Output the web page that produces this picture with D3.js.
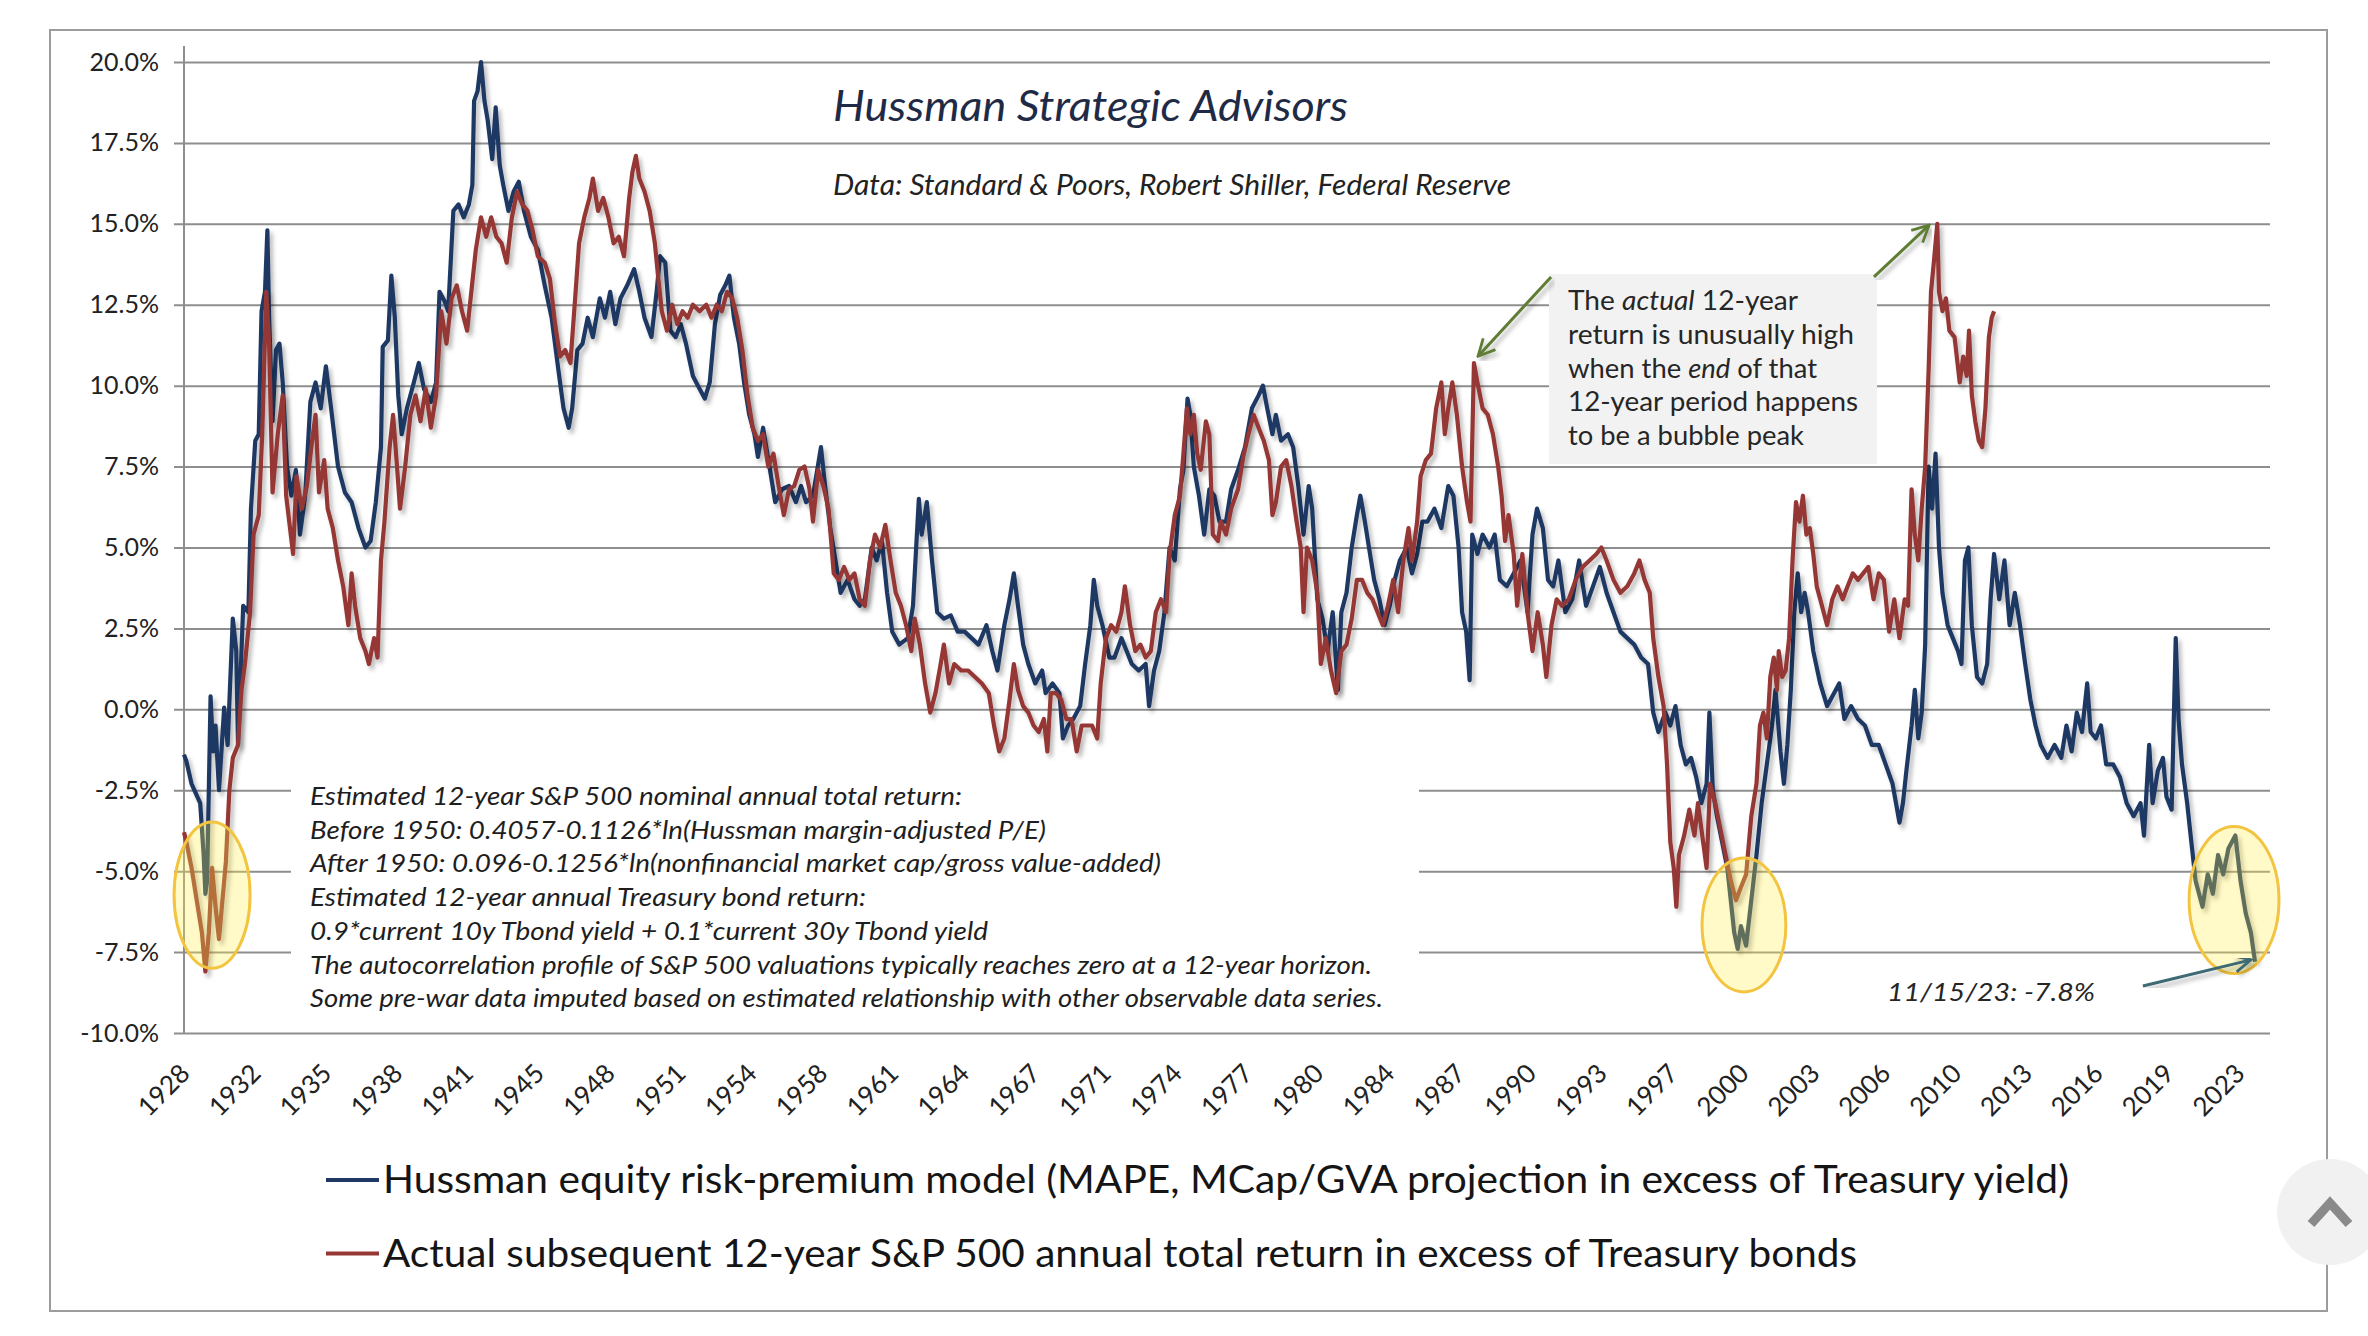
<!DOCTYPE html>
<html>
<head>
<meta charset="UTF-8">
<title>Hussman Strategic Advisors</title>
<script src="https://d3js.org/d3.v7.min.js"></script>
<style>
  body { margin: 0; background: #fff; }
</style>
</head>
<body>
<svg id="chart"></svg>
<script>
// values: [position on the time axis in years, percent]
const modelSeries = [
[1928.0,-1.4],[1928.11,-1.6],[1928.35,-2.3],[1928.75,-2.9],[1928.91,-4.5],[1928.99,-5.7],[1929.07,-5.3],[1929.23,0.4],[1929.35,-1.3],[1929.46,-0.5],[1929.62,-2.5],[1929.86,0.05],[1930.02,-1.1],[1930.26,2.8],[1930.42,1.8],[1930.5,-1.1],[1930.74,3.2],[1930.98,3.0],[1931.1,6.2],[1931.3,8.3],[1931.46,8.5],[1931.59,12.3],[1931.75,12.9],[1931.86,14.8],[1931.94,12.1],[1932.1,8.9],[1932.26,11.1],[1932.42,11.3],[1932.57,10.1],[1932.77,7.5],[1932.97,6.6],[1933.18,7.4],[1933.37,5.4],[1933.61,6.6],[1933.85,9.5],[1934.09,10.1],[1934.33,9.3],[1934.57,10.6],[1934.81,9.3],[1935.13,7.5],[1935.45,6.7],[1935.76,6.4],[1936.08,5.6],[1936.4,5.0],[1936.64,5.2],[1936.88,6.4],[1937.12,8.1],[1937.2,11.2],[1937.44,11.4],[1937.6,13.4],[1937.76,12.1],[1937.92,9.7],[1938.08,8.5],[1938.32,9.3],[1938.64,10.1],[1938.87,10.7],[1939.11,9.9],[1939.43,9.5],[1939.67,10.1],[1939.83,12.9],[1940.07,12.6],[1940.23,12.3],[1940.47,15.4],[1940.71,15.6],[1940.95,15.2],[1941.19,15.6],[1941.35,16.2],[1941.43,18.8],[1941.59,19.1],[1941.75,20.0],[1941.91,18.8],[1942.06,18.2],[1942.27,17.0],[1942.43,18.6],[1942.62,16.8],[1942.78,16.2],[1943.02,15.4],[1943.26,16.0],[1943.5,16.3],[1943.74,15.4],[1944.06,14.6],[1944.38,14.2],[1944.7,13.1],[1945.02,12.1],[1945.33,10.5],[1945.57,9.3],[1945.81,8.7],[1945.97,9.3],[1946.21,11.1],[1946.45,11.3],[1946.69,12.1],[1946.93,11.5],[1947.25,12.7],[1947.49,12.1],[1947.73,12.9],[1947.97,11.9],[1948.21,12.7],[1948.52,13.1],[1948.84,13.6],[1949.08,12.9],[1949.32,12.1],[1949.64,11.5],[1949.88,12.9],[1950.04,14.0],[1950.28,13.8],[1950.52,11.7],[1950.76,11.5],[1951.0,11.9],[1951.24,11.3],[1951.56,10.3],[1951.87,9.9],[1952.11,9.6],
[1952.34,10.1],[1952.58,11.9],[1952.82,12.8],[1953.06,13.1],[1953.25,13.4],[1953.46,12.1],[1953.7,11.3],[1953.93,10.1],[1954.17,9.1],[1954.41,8.5],[1954.57,7.8],[1954.81,8.7],[1955.13,7.4],[1955.37,6.4],[1955.69,6.8],[1956.01,6.9],[1956.33,6.4],[1956.57,6.9],[1956.8,6.4],[1957.12,6.6],[1957.49,8.1],[1957.68,6.9],[1957.92,5.6],[1958.16,4.6],[1958.4,3.6],[1958.72,4.0],[1959.04,3.4],[1959.28,3.2],[1959.52,3.4],[1959.84,5.0],[1960.07,4.6],[1960.31,5.2],[1960.55,3.6],[1960.79,2.4],[1961.11,2.0],[1961.51,2.2],[1961.75,3.2],[1962.02,6.5],[1962.15,5.4],[1962.39,6.4],[1962.63,4.6],[1962.87,3.0],[1963.18,2.8],[1963.5,2.9],[1963.82,2.4],[1964.14,2.4],[1964.46,2.2],[1964.78,2.0],[1965.15,2.6],[1965.42,1.8],[1965.66,1.2],[1965.98,2.6],[1966.22,3.4],[1966.42,4.2],[1966.61,3.2],[1966.85,2.0],[1967.09,1.4],[1967.41,0.8],[1967.73,1.2],[1967.89,0.5],[1968.21,0.8],[1968.53,0.5],[1968.69,-0.9],[1968.93,-0.5],[1969.17,-0.3],[1969.49,0.1],[1969.72,1.4],[1969.96,2.6],[1970.12,4.0],[1970.28,3.2],[1970.52,2.6],[1970.84,1.6],[1971.08,1.6],[1971.4,2.2],[1971.64,1.8],[1971.88,1.4],[1972.2,1.2],[1972.52,1.4],[1972.68,0.1],[1972.91,1.2],[1973.15,1.8],[1973.39,3.0],[1973.63,5.0],[1973.87,4.6],[1974.11,6.8],[1974.27,7.4],[1974.46,9.6],[1974.59,9.1],[1974.75,7.5],[1974.99,6.6],[1975.23,5.4],[1975.47,6.8],[1975.7,6.6],[1975.94,5.8],
[1976.24,5.8],[1976.48,6.8],[1976.8,7.4],[1977.12,8.1],[1977.44,9.3],[1977.75,9.7],[1977.95,10.0],[1978.15,9.3],[1978.39,8.5],[1978.55,9.1],[1978.79,8.3],[1979.11,8.5],[1979.35,8.1],[1979.59,6.9],[1979.83,5.4],[1980.07,6.9],[1980.23,6.2],[1980.47,3.4],[1980.71,2.8],[1980.94,1.8],[1981.18,3.0],[1981.42,0.6],[1981.58,3.0],[1981.82,3.6],[1982.06,5.0],[1982.3,6.0],[1982.46,6.6],[1982.67,5.8],[1982.86,5.0],[1983.1,4.0],[1983.34,3.4],[1983.58,2.6],[1983.82,3.2],[1984.05,4.0],[1984.29,4.6],[1984.61,5.0],[1984.85,4.2],[1985.09,4.8],[1985.33,5.8],[1985.57,5.8],[1985.89,6.2],[1986.21,5.6],[1986.53,6.9],[1986.77,6.6],[1987.01,5.0],[1987.17,3.0],[1987.36,2.4],[1987.52,0.9],[1987.64,5.4],[1987.88,4.8],[1988.12,5.4],[1988.44,5.0],[1988.68,5.4],[1988.92,4.0],[1989.24,3.8],[1989.56,4.2],[1989.88,4.6],[1990.2,3.0],[1990.43,5.4],[1990.64,6.2],[1990.91,5.6],[1991.15,4.0],[1991.39,3.8],[1991.63,4.6],[1991.95,3.0],[1992.27,3.4],[1992.59,4.6],[1992.91,3.2],[1993.23,3.8],[1993.55,4.4],[1993.86,3.6],[1994.18,3.0],[1994.5,2.4],[1994.82,2.2],[1995.14,2.0],[1995.46,1.6],[1995.78,1.4],[1996.02,-0.1],[1996.26,-0.7],[1996.58,-0.1],[1996.81,-0.5],[1997.05,0.1],[1997.29,-1.1],[1997.53,-1.7],[1997.77,-1.5],[1998.01,-2.1],[1998.25,-2.9],[1998.49,-2.3],[1998.62,-0.1],[1998.78,-2.5],[1998.97,-3.3],[1999.21,-4.1],[1999.45,-4.9],[1999.61,-5.9],[1999.77,-6.9],[1999.93,-7.4],
[2000.08,-6.7],[2000.32,-7.3],[2000.56,-5.9],[2000.8,-4.5],[2001.04,-2.9],[2001.28,-1.7],[2001.52,-0.5],[2001.68,0.6],[2001.91,-1.3],[2002.07,-2.3],[2002.23,-1.1],[2002.39,0.6],[2002.55,3.0],[2002.71,4.2],[2002.87,3.0],[2003.03,3.6],[2003.19,3.0],[2003.43,1.8],[2003.75,0.8],[2004.07,0.1],[2004.39,0.5],[2004.63,0.8],[2004.87,-0.3],[2005.18,0.1],[2005.5,-0.3],[2005.82,-0.5],[2006.14,-1.1],[2006.46,-1.1],[2006.78,-1.7],[2007.1,-2.3],[2007.42,-3.5],[2007.58,-2.9],[2007.74,-1.9],[2007.98,-0.5],[2008.13,0.6],[2008.29,-0.9],[2008.45,-0.1],[2008.61,2.0],[2008.77,7.5],[2008.93,6.2],[2009.09,7.9],[2009.25,5.0],[2009.41,3.6],[2009.65,2.6],[2009.89,2.2],[2010.13,1.8],[2010.29,1.4],[2010.45,4.6],[2010.61,5.0],[2010.77,2.6],[2011.01,1.0],[2011.25,0.8],[2011.48,1.4],[2011.64,3.4],[2011.8,4.8],[2012.04,3.4],[2012.28,4.6],[2012.52,2.6],[2012.76,3.6],[2013.0,2.6],[2013.24,1.4],[2013.48,0.3],[2013.72,-0.5],[2013.96,-1.1],[2014.28,-1.5],[2014.6,-1.1],[2014.91,-1.5],[2015.15,-0.5],[2015.39,-1.3],[2015.63,-0.1],[2015.87,-0.7],[2016.11,0.8],[2016.27,-0.7],[2016.51,-0.9],[2016.75,-0.5],[2016.99,-1.7],[2017.31,-1.7],[2017.63,-2.1],[2017.94,-2.9],[2018.26,-3.3],[2018.58,-2.9],[2018.74,-3.9],[2018.98,-1.1],[2019.14,-2.9],[2019.38,-1.9],[2019.62,-1.5],[2019.78,-2.7],[2020.02,-3.1],[2020.21,2.2],[2020.34,-0.3],[2020.5,-1.7],[2020.74,-2.9],[2020.9,-3.9],[2021.13,-5.3],[2021.45,-6.1],[2021.69,-5.1],[2021.93,-5.7],[2022.17,-4.5],[2022.41,-5.1],[2022.65,-4.3],[2022.97,-3.9],[2023.21,-5.3],[2023.45,-6.3],[2023.69,-6.9],[2023.88,-7.8]
];

const actualSeries = [
[1928.0,-3.8],[1928.11,-4.1],[1928.35,-4.9],[1928.59,-5.9],[1928.83,-6.9],[1928.99,-8.1],[1929.15,-6.9],[1929.3,-4.9],[1929.46,-6.1],[1929.62,-7.1],[1929.78,-5.9],[1929.94,-4.7],[1930.1,-2.5],[1930.26,-1.5],[1930.5,-1.1],[1930.66,0.6],[1930.82,1.4],[1931.06,3.0],[1931.22,5.4],[1931.46,6.0],[1931.62,8.5],[1931.81,12.9],[1931.94,11.3],[1932.1,6.7],[1932.34,8.5],[1932.57,9.7],[1932.73,6.6],[1933.05,4.8],[1933.21,7.2],[1933.45,6.2],[1933.69,6.9],[1933.93,8.3],[1934.09,9.1],[1934.25,6.7],[1934.49,7.7],[1934.65,6.2],[1934.89,5.6],[1935.13,4.6],[1935.37,3.8],[1935.61,2.6],[1935.76,4.2],[1935.92,3.2],[1936.16,2.2],[1936.4,1.8],[1936.56,1.4],[1936.8,2.2],[1936.96,1.6],[1937.12,4.6],[1937.28,5.8],[1937.52,8.1],[1937.68,9.1],[1937.84,7.7],[1938.0,6.2],[1938.24,7.5],[1938.48,9.1],[1938.72,9.7],[1938.95,8.9],[1939.19,9.9],[1939.43,8.7],[1939.67,9.7],[1939.91,12.3],[1940.15,11.3],[1940.39,12.7],[1940.63,13.1],[1940.87,12.3],[1941.11,11.7],[1941.27,12.7],[1941.51,14.2],[1941.75,15.2],[1941.99,14.6],[1942.22,15.2],[1942.46,14.6],[1942.7,14.4],[1942.94,13.8],[1943.18,15.2],[1943.42,16.0],[1943.66,15.6],[1943.9,15.4],[1944.14,14.8],[1944.38,14.0],[1944.7,13.8],[1944.94,13.3],[1945.18,11.9],[1945.41,10.9],[1945.65,11.1],[1945.89,10.7],[1946.13,12.9],[1946.29,14.4],[1946.53,15.2],[1946.77,15.8],[1946.93,16.4],[1947.17,15.4],[1947.41,15.8],[1947.65,15.2],[1947.89,14.4],[1948.13,14.6],[1948.37,14.0],[1948.61,15.8],[1948.76,16.6],[1948.92,17.1],[1949.08,16.4],[1949.32,16.0],[1949.56,15.4],[1949.8,14.4],[1949.96,13.3],[1950.12,12.3],[1950.36,11.7],[1950.6,12.5],[1950.84,11.9],[1951.08,12.3],[1951.32,12.1],[1951.56,12.5],[1951.87,12.3],
[1952.18,12.5],[1952.42,12.1],[1952.66,12.5],[1952.9,12.3],[1953.14,12.9],[1953.38,12.7],[1953.61,12.1],[1953.85,11.1],[1954.09,9.7],[1954.33,8.7],[1954.57,8.3],[1954.81,8.5],[1955.05,7.5],[1955.29,7.9],[1955.53,6.9],[1955.77,6.0],[1956.01,6.8],[1956.25,6.9],[1956.49,7.4],[1956.73,7.5],[1956.96,6.8],[1957.12,5.8],[1957.36,7.4],[1957.6,6.9],[1957.84,6.2],[1958.08,4.2],[1958.32,4.0],[1958.56,4.4],[1958.8,4.0],[1959.04,4.2],[1959.28,3.4],[1959.52,3.2],[1959.76,4.6],[1959.99,5.4],[1960.23,5.0],[1960.47,5.7],[1960.71,4.6],[1960.95,3.6],[1961.19,3.2],[1961.43,2.6],[1961.67,1.8],[1961.83,2.8],[1962.07,2.0],[1962.31,0.8],[1962.55,-0.1],[1962.79,0.5],[1963.03,1.4],[1963.18,2.0],[1963.42,0.8],[1963.66,1.4],[1963.98,1.2],[1964.3,1.2],[1964.62,1.0],[1964.94,0.8],[1965.26,0.5],[1965.5,-0.5],[1965.74,-1.3],[1965.98,-0.9],[1966.22,0.3],[1966.42,1.4],[1966.61,0.6],[1966.85,0.1],[1967.09,-0.1],[1967.33,-0.5],[1967.57,-0.7],[1967.81,-0.3],[1967.97,-1.3],[1968.13,0.5],[1968.37,0.5],[1968.61,0.3],[1968.85,-0.3],[1969.09,-0.3],[1969.33,-1.3],[1969.56,-0.5],[1969.8,-0.5],[1970.04,-0.5],[1970.28,-0.9],[1970.44,0.8],[1970.68,2.2],[1970.92,2.6],[1971.16,2.4],[1971.4,3.0],[1971.56,3.8],[1971.8,2.6],[1972.04,1.8],[1972.28,2.0],[1972.52,1.6],[1972.76,1.8],[1972.99,3.0],[1973.23,3.4],[1973.47,3.0],[1973.63,4.8],[1973.87,6.0],[1974.11,6.6],[1974.27,7.9],[1974.43,9.3],[1974.59,8.5],[1974.75,9.1],[1974.91,7.9],[1975.07,7.4],[1975.31,8.9],[1975.47,8.5],[1975.63,5.4],[1975.87,5.2],
[1976.0,5.8],[1976.24,5.4],[1976.48,6.2],[1976.8,6.8],[1977.04,7.8],[1977.28,8.5],[1977.52,9.1],[1977.75,8.7],[1977.99,8.3],[1978.23,7.7],[1978.39,6.0],[1978.55,6.4],[1978.79,7.5],[1979.03,7.7],[1979.27,6.9],[1979.51,5.8],[1979.7,5.0],[1979.83,3.0],[1979.99,5.0],[1980.23,4.6],[1980.47,3.6],[1980.63,1.4],[1980.86,2.2],[1981.1,1.2],[1981.34,0.5],[1981.58,1.8],[1981.82,2.0],[1982.06,2.8],[1982.3,4.0],[1982.54,4.0],[1982.78,3.6],[1983.02,3.4],[1983.26,3.0],[1983.5,2.6],[1983.74,3.2],[1983.98,4.0],[1984.21,3.0],[1984.45,4.6],[1984.69,5.6],[1984.85,4.6],[1985.09,5.8],[1985.25,7.2],[1985.49,7.7],[1985.73,7.9],[1985.97,9.3],[1986.21,10.1],[1986.37,8.5],[1986.53,9.3],[1986.72,10.1],[1986.93,9.1],[1987.17,7.5],[1987.4,6.4],[1987.56,5.8],[1987.72,10.7],[1987.88,10.1],[1988.12,9.3],[1988.36,9.1],[1988.6,8.5],[1988.84,7.5],[1989.0,6.6],[1989.16,5.2],[1989.32,6.0],[1989.56,4.8],[1989.72,3.2],[1989.96,4.8],[1990.2,3.0],[1990.43,1.8],[1990.67,3.0],[1990.91,2.0],[1991.07,1.0],[1991.31,2.6],[1991.55,3.4],[1991.79,3.2],[1992.11,3.4],[1992.43,4.0],[1992.75,4.4],[1993.07,4.6],[1993.39,4.8],[1993.62,5.0],[1993.86,4.6],[1994.18,4.0],[1994.5,3.6],[1994.82,3.8],[1995.14,4.2],[1995.38,4.6],[1995.62,4.0],[1995.86,3.6],[1996.02,2.2],[1996.26,1.0],[1996.5,0.1],[1996.66,-1.7],[1996.81,-4.1],[1996.97,-4.9],[1997.09,-6.1],[1997.21,-4.5],[1997.45,-3.9],[1997.69,-3.1],[1997.93,-3.9],[1998.09,-2.9],[1998.33,-4.1],[1998.49,-4.9],[1998.65,-2.3],[1998.89,-2.9],[1999.13,-3.7],[1999.37,-4.5],[1999.61,-5.3],[1999.85,-5.9],[2000.08,-5.5],
[2000.32,-5.1],[2000.56,-3.3],[2000.8,-2.3],[2000.96,-0.5],[2001.12,-0.1],[2001.28,-0.9],[2001.44,1.0],[2001.6,1.6],[2001.75,0.6],[2001.83,1.8],[2001.99,1.0],[2002.15,1.2],[2002.31,2.2],[2002.47,4.6],[2002.63,6.4],[2002.79,5.8],[2002.95,6.6],[2003.11,5.4],[2003.27,5.6],[2003.43,4.8],[2003.59,3.8],[2003.83,3.2],[2004.07,2.6],[2004.31,3.4],[2004.55,3.8],[2004.79,3.4],[2005.02,3.8],[2005.26,4.2],[2005.5,4.0],[2005.74,4.2],[2005.98,4.4],[2006.22,3.4],[2006.46,4.2],[2006.7,4.0],[2006.94,2.4],[2007.18,3.4],[2007.42,2.2],[2007.66,3.4],[2007.82,3.2],[2007.98,6.8],[2008.13,5.4],[2008.29,4.6],[2008.45,6.2],[2008.61,7.5],[2008.77,10.5],[2008.88,12.9],[2009.01,13.8],[2009.17,15.0],[2009.25,12.9],[2009.41,12.3],[2009.57,12.7],[2009.73,11.7],[2009.97,11.5],[2010.21,10.1],[2010.37,10.9],[2010.53,10.3],[2010.64,11.7],[2010.77,9.7],[2010.93,8.9],[2011.09,8.3],[2011.25,8.1],[2011.4,9.3],[2011.56,11.5],[2011.69,12.1],[2011.8,12.3]
];

const yTicks = [-10, -7.5, -5, -2.5, 0, 2.5, 5, 7.5, 10, 12.5, 15, 17.5, 20];
const xTickLabels = ["1928","1932","1935","1938","1941","1945","1948","1951","1954","1958","1961","1964","1967","1971","1974",
                     "1977","1980","1984","1987","1990","1993","1997","2000","2003","2006","2010","2013","2016","2019","2023"];

const legendLabels = [
  "Hussman equity risk-premium model (MAPE, MCap/GVA projection in excess of Treasury yield)",
  "Actual subsequent 12-year S&P 500 annual total return in excess of Treasury bonds"
];
const legendColors = ["#1F3864", "#953735"];

const noteLines = [
  "Estimated 12-year S&P 500 nominal annual total return:",
  "Before 1950: 0.4057-0.1126*ln(Hussman margin-adjusted P/E)",
  "After 1950: 0.096-0.1256*ln(nonfinancial market cap/gross value-added)",
  "Estimated 12-year annual Treasury bond return:",
  "0.9*current 10y Tbond yield + 0.1*current 30y Tbond yield",
  "The autocorrelation profile of S&P 500 valuations typically reaches zero at a 12-year horizon.",
  "Some pre-war data imputed based on estimated relationship with other observable data series."
];
const noteWidths = [652, 736, 851, 556, 678, 1062, 1073];

// callout box text, [text, italic] pieces per line
const boxLines = [
  [["The ", false], ["actual", true], [" 12-year", false]],
  [["return is unusually high", false]],
  [["when the ", false], ["end", true], [" of that", false]],
  [["12-year period happens", false]],
  [["to be a bubble peak", false]]
];
const boxWidths = [230, 286, 249, 290, 236];

// yellow highlight ellipses, in data units
const highlights = [
  {year: 1929.3, value: -5.74, rYears: 1.76, rPct: 2.26},
  {year: 2000.22, value: -6.66, rYears: 1.94, rPct: 2.07},
  {year: 2022.91, value: -5.89, rYears: 2.08, rPct: 2.27}
];

// annotation arrows, in data units
const arrows = [
  {from: [1991.29, 13.36], to: [1987.91, 10.91], color: "#5E7D34"},
  {from: [2006.24, 13.36], to: [2008.79, 14.96], color: "#5E7D34"},
  {from: [2018.69, -8.55], to: [2023.69, -7.74], color: "#3D6A73"}
];

const width = 2368, height = 1336;
const plot = {left: 184, right: 2270, top: 62, bottom: 1033};

const svg = d3.select("#chart")
  .attr("width", width)
  .attr("height", height)
  .style("display", "block")
  .attr("font-family", "Lato, 'Open Sans', sans-serif");

const defs = svg.append("defs");
const shadow = defs.append("filter").attr("id", "shadow")
  .attr("x", "-5%").attr("y", "-5%").attr("width", "110%").attr("height", "110%");
shadow.append("feDropShadow").attr("dx", 3).attr("dy", 4).attr("stdDeviation", 2.2)
  .attr("flood-color", "#000").attr("flood-opacity", 0.28);

arrows.forEach((a, i) => {
  defs.append("marker").attr("id", "head" + i)
    .attr("viewBox", "0 0 12 12").attr("refX", 11).attr("refY", 6)
    .attr("markerWidth", 20).attr("markerHeight", 20)
    .attr("markerUnits", "userSpaceOnUse").attr("orient", "auto")
    .append("path").attr("d", "M1,1 L11,6 L1,11")
    .attr("fill", "none").attr("stroke", a.color).attr("stroke-width", 1.7);
});

// outer frame
svg.append("rect")
  .attr("x", 50).attr("y", 30).attr("width", 2277).attr("height", 1281)
  .attr("fill", "#fff").attr("stroke", "#9c9c9c").attr("stroke-width", 2);

const x = d3.scaleLinear().domain([1928, 2024]).range([plot.left, plot.left + 96 * 21.6]);
const y = d3.scaleLinear().domain([-10, 20]).range([plot.bottom, plot.top]);
const xCat = d3.scalePoint().domain(xTickLabels).range([plot.left, 2239]);

// y axis + gridlines
svg.append("g")
  .attr("transform", `translate(174,0)`)
  .call(d3.axisLeft(y).tickValues(yTicks)
    .tickSize(-(plot.right - 174)).tickPadding(15)
    .tickFormat(d => d.toFixed(1) + "%"))
  .call(g => g.select(".domain").remove())
  .call(g => g.selectAll("line").attr("stroke", "#8e8e8e").attr("stroke-width", 2))
  .call(g => g.selectAll("text")
    .attr("font-family", "Lato, sans-serif").attr("font-size", 25).attr("fill", "#222"));

svg.append("line")
  .attr("x1", plot.left).attr("x2", plot.left)
  .attr("y1", 46).attr("y2", plot.bottom)
  .attr("stroke", "#8e8e8e").attr("stroke-width", 2);

// x axis labels
svg.append("g")
  .attr("transform", `translate(0,${plot.bottom})`)
  .call(d3.axisBottom(xCat).tickSize(0))
  .call(g => g.select(".domain").remove())
  .selectAll("text")
  .attr("y", 0).attr("dy", 0)
  .attr("text-anchor", "end")
  .attr("transform", "translate(7,42) rotate(-45)")
  .attr("font-family", "Lato, sans-serif").attr("font-size", 26).attr("fill", "#222");

// white panel behind the methodology note
svg.append("rect")
  .attr("x", 291).attr("y", 772).attr("width", 1128).attr("height", 252)
  .attr("fill", "#fff");

// series
const line = d3.line().x(d => x(d[0])).y(d => y(d[1]));

svg.append("path").datum(modelSeries)
  .attr("d", line).attr("fill", "none")
  .attr("stroke", "#1F3864").attr("stroke-width", 4.2)
  .attr("stroke-linejoin", "round")
  .attr("filter", "url(#shadow)");

svg.append("path").datum(actualSeries)
  .attr("d", line).attr("fill", "none")
  .attr("stroke", "#953735").attr("stroke-width", 4.2)
  .attr("stroke-linejoin", "round")
  .attr("filter", "url(#shadow)");

// highlight ellipses
svg.selectAll(".hl").data(highlights).enter().append("ellipse")
  .attr("class", "hl")
  .attr("cx", d => x(d.year))
  .attr("cy", d => y(d.value))
  .attr("rx", d => x(d.year + d.rYears) - x(d.year))
  .attr("ry", d => y(d.value - d.rPct) - y(d.value))
  .attr("fill", "#FFF04A").attr("fill-opacity", 0.3)
  .attr("stroke", "#F2C440").attr("stroke-width", 3);

// title block
svg.append("text")
  .attr("x", 833).attr("y", 121)
  .attr("font-size", 43).attr("font-style", "italic").attr("fill", "#1F2B46")
  .attr("textLength", 515).attr("lengthAdjust", "spacingAndGlyphs")
  .text("Hussman Strategic Advisors");

svg.append("text")
  .attr("x", 833).attr("y", 195)
  .attr("font-size", 28).attr("font-style", "italic").attr("fill", "#222")
  .attr("textLength", 678).attr("lengthAdjust", "spacingAndGlyphs")
  .text("Data: Standard & Poors, Robert Shiller, Federal Reserve");

// methodology note
svg.selectAll(".note").data(noteLines).enter().append("text")
  .attr("class", "note")
  .attr("x", 310)
  .attr("y", (d, i) => 805 + i * 33.7)
  .attr("font-size", 25).attr("font-style", "italic").attr("fill", "#1e1e1e")
  .attr("textLength", (d, i) => noteWidths[i]).attr("lengthAdjust", "spacingAndGlyphs")
  .text(d => d);

// callout box
svg.append("rect")
  .attr("x", 1549).attr("y", 274).attr("width", 328).attr("height", 190)
  .attr("fill", "#F2F2F2");

boxLines.forEach((parts, i) => {
  const t = svg.append("text")
    .attr("x", 1568).attr("y", 310 + i * 33.8)
    .attr("font-size", 27).attr("fill", "#262626")
    .attr("textLength", boxWidths[i]).attr("lengthAdjust", "spacingAndGlyphs");
  parts.forEach(p => t.append("tspan")
    .attr("font-style", p[1] ? "italic" : "normal").text(p[0]));
});

// arrows
arrows.forEach((a, i) => {
  svg.append("line")
    .attr("x1", x(a.from[0])).attr("y1", y(a.from[1]))
    .attr("x2", x(a.to[0])).attr("y2", y(a.to[1]))
    .attr("stroke", a.color).attr("stroke-width", 3)
    .attr("marker-end", `url(#head${i})`)
    .attr("filter", "url(#shadow)");
});

svg.append("text")
  .attr("x", 1887).attr("y", 1001)
  .attr("font-size", 25).attr("font-style", "italic").attr("fill", "#262626")
  .attr("textLength", 208).attr("lengthAdjust", "spacingAndGlyphs")
  .text("11/15/23: -7.8%");

// legend
const legend = svg.selectAll(".legend").data(legendLabels).enter().append("g")
  .attr("class", "legend")
  .attr("transform", (d, i) => `translate(0,${1180 + i * 73.5})`);

legend.append("line")
  .attr("x1", 326).attr("x2", 379).attr("y1", 0).attr("y2", 0)
  .attr("stroke", (d, i) => legendColors[i]).attr("stroke-width", 4);

legend.append("text")
  .attr("x", 383).attr("y", 13)
  .attr("font-size", 39).attr("fill", "#151515")
  .attr("textLength", (d, i) => [1686, 1474][i]).attr("lengthAdjust", "spacingAndGlyphs")
  .text(d => d);

// page scroll button sitting over the image corner
svg.append("circle")
  .attr("cx", 2330).attr("cy", 1212).attr("r", 53)
  .attr("fill", "#f1f1f1");
svg.append("path")
  .attr("d", "M2311,1224 L2330,1203 L2349,1224")
  .attr("fill", "none").attr("stroke", "#8a8a8a").attr("stroke-width", 9);
</script>
</body>
</html>
